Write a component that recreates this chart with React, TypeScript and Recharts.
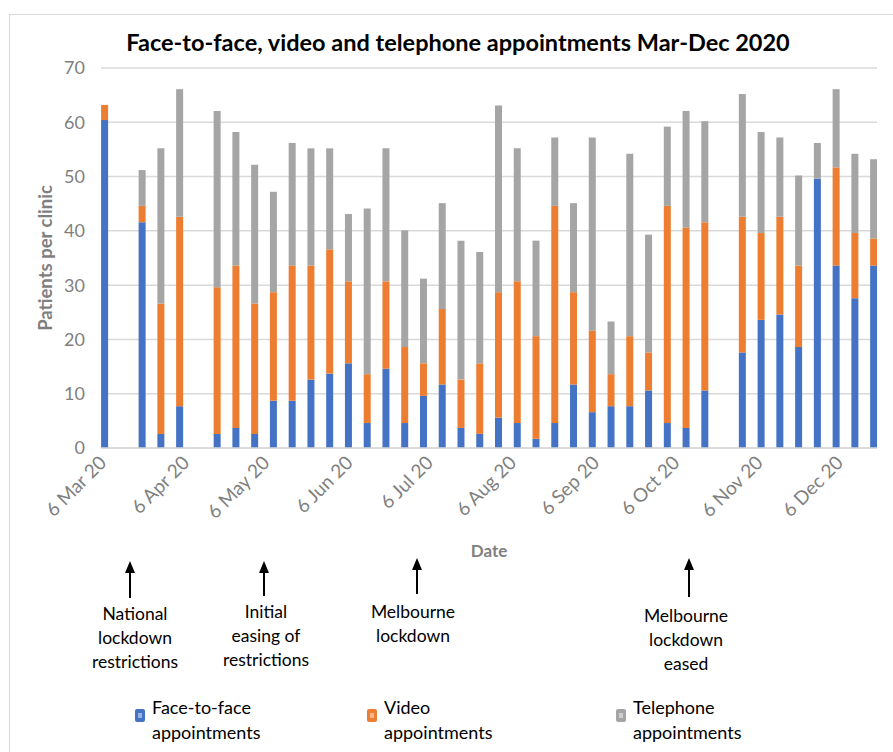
import React from "react";
import { BarChart, Bar, XAxis, YAxis, CartesianGrid } from "recharts";

// weekly dates (13 Mar, 10 Apr and 23 Oct have no data)
const weeks = [
  "2020-03-06", "2020-03-20", "2020-03-27", "2020-04-03", "2020-04-17", "2020-04-24",
  "2020-05-01", "2020-05-08", "2020-05-15", "2020-05-22", "2020-05-29", "2020-06-05",
  "2020-06-12", "2020-06-19", "2020-06-26", "2020-07-03", "2020-07-10", "2020-07-17",
  "2020-07-24", "2020-07-31", "2020-08-07", "2020-08-14", "2020-08-21", "2020-08-28",
  "2020-09-04", "2020-09-11", "2020-09-18", "2020-09-25", "2020-10-02", "2020-10-09",
  "2020-10-16", "2020-10-30", "2020-11-06", "2020-11-13", "2020-11-20", "2020-11-27",
  "2020-12-04", "2020-12-11", "2020-12-18",
];

const faceToFace = [
  60.4, 41.6, 2.6, 7.7, 2.6, 3.7, 2.6, 8.7, 8.7, 12.6, 13.7, 15.6, 4.6, 14.6, 4.6, 9.6,
  11.7, 3.7, 2.6, 5.6, 4.6, 1.7, 4.6, 11.7, 6.6, 7.7, 7.7, 10.6, 4.6, 3.7, 10.6, 17.6,
  23.6, 24.6, 18.6, 49.6, 33.6, 27.6, 33.6,
];
const video = [
  2.8, 3.0, 24.0, 34.9, 27.0, 29.9, 24.0, 20.0, 24.9, 21.0, 22.9, 15.1, 9.0, 16.1, 14.0,
  6.0, 13.9, 8.9, 13.0, 23.1, 26.1, 18.9, 40.0, 17.0, 15.0, 5.9, 12.9, 7.0, 40.0, 36.9,
  31.0, 25.0, 16.0, 18.0, 15.0, 0, 18.1, 12.0, 5.0,
];
const telephone = [
  0, 6.6, 28.6, 23.5, 32.5, 24.6, 25.6, 18.5, 22.6, 21.6, 18.6, 12.4, 30.5, 24.5, 21.5,
  15.6, 19.5, 25.6, 20.5, 34.4, 24.5, 17.6, 12.6, 16.4, 35.6, 9.7, 33.6, 21.7, 14.6, 21.5,
  18.6, 22.6, 18.6, 14.6, 16.6, 6.6, 14.4, 14.6, 14.6,
];

const tickDates = [
  "2020-03-06", "2020-04-06", "2020-05-06", "2020-06-06", "2020-07-06",
  "2020-08-06", "2020-09-06", "2020-10-06", "2020-11-06", "2020-12-06",
];
const tickLabels = [
  "6 Mar 20", "6 Apr 20", "6 May 20", "6 Jun 20", "6 Jul 20",
  "6 Aug 20", "6 Sep 20", "6 Oct 20", "6 Nov 20", "6 Dec 20",
];
const yTicks = [0, 10, 20, 30, 40, 50, 60, 70];

const start = Date.UTC(2020, 2, 6);
const dayOf = (s: string) => {
  const [y, m, d] = s.split("-").map(Number);
  return Math.round((Date.UTC(y, m - 1, d) - start) / 86400000);
};

const data = weeks.map((w, i) => ({
  day: dayOf(w),
  f2f: faceToFace[i],
  video: video[i],
  phone: telephone[i],
}));
const xTicks = tickDates.map(dayOf);

const FONT = "Lato, 'Open Sans', sans-serif";
const GREY = "#7f7f7f";

const XTick = (props: any) => {
  const { x, payload } = props;
  const idx = xTicks.indexOf(payload.value);
  const ty = 464;
  return (
    <text
      x={x + 3}
      y={ty}
      transform={`rotate(-45 ${x + 3} ${ty})`}
      textAnchor="end"
      fill={GREY}
      fontSize={19}
      fontFamily={FONT}
    >
      {tickLabels[idx]}
    </text>
  );
};

const Arrow = ({ x, y1, y2 }: { x: number; y1: number; y2: number }) => (
  <g>
    <line x1={x} y1={y1 + 10} x2={x} y2={y2} stroke="#000" strokeWidth={2} />
    <polygon points={`${x - 5},${y1 + 12} ${x + 5},${y1 + 12} ${x},${y1}`} fill="#000" />
  </g>
);

const Note = ({ x, y, lines }: { x: number; y: number; lines: string[] }) => (
  <text x={x} y={y} textAnchor="middle" fontSize={17.5} fontFamily={FONT} fill="#000">
    {lines.map((l, i) => (
      <tspan key={i} x={x} dy={i === 0 ? 0 : 24}>
        {l}
      </tspan>
    ))}
  </text>
);

const legendItems = [
  { color: "#4472C4", lines: ["Face-to-face", "appointments"], x: 135 },
  { color: "#ED7D31", lines: ["Video", "appointments"], x: 367 },
  { color: "#A5A5A5", lines: ["Telephone", "appointments"], x: 616 },
];

export default function App() {
  return (
    <div
      style={{
        position: "absolute",
        left: 0,
        top: 0,
        width: 893,
        height: 752,
        background: "#fff",
        overflow: "hidden",
        fontFamily: FONT,
      }}
    >
      <div
        style={{
          position: "absolute",
          left: 9,
          top: 14,
          width: 900,
          height: 760,
          borderTop: "1px solid #d9d9d9",
          borderLeft: "1px solid #d9d9d9",
        }}
      />
      <BarChart
        width={893}
        height={752}
        data={data}
        margin={{ top: 68, right: 16, bottom: 244, left: 0 }}
        style={{ position: "absolute", left: 0, top: 0 }}
      >
        <CartesianGrid vertical={false} stroke="#d9d9d9" strokeWidth={1.5} />
        <XAxis
          dataKey="day"
          type="number"
          domain={[-1.3, 288.3]}
          ticks={xTicks}
          allowDataOverflow
          height={60}
          tickLine={false}
          axisLine={{ stroke: "#d9d9d9", strokeWidth: 1.5 }}
          tick={<XTick />}
          interval={0}
        />
        <YAxis
          type="number"
          domain={[0, 70]}
          ticks={yTicks}
          width={101}
          tickLine={false}
          axisLine={false}
          tickMargin={10}
          tick={{ fill: GREY, fontSize: 18, fontFamily: FONT }}
        />
        <Bar dataKey="f2f" stackId="a" fill="#4472C4" barSize={7} isAnimationActive={false} />
        <Bar dataKey="video" stackId="a" fill="#ED7D31" barSize={7} isAnimationActive={false} />
        <Bar dataKey="phone" stackId="a" fill="#A5A5A5" barSize={7} isAnimationActive={false} />
      </BarChart>
      <svg
        width={893}
        height={752}
        style={{ position: "absolute", left: 0, top: 0, pointerEvents: "none" }}
      >
        <text x={458} y={51} textAnchor="middle" fontSize={23.5} fontWeight={700} fontFamily={FONT} fill="#000">
          Face-to-face, video and telephone appointments Mar-Dec 2020
        </text>
        <text
          x={52}
          y={258}
          transform="rotate(-90 52 258)"
          textAnchor="middle"
          fontSize={18.5}
          fontWeight={700}
          fontFamily={FONT}
          fill={GREY}
        >
          Patients per clinic
        </text>
        <text x={489} y={557} textAnchor="middle" fontSize={17} fontWeight={700} fontFamily={FONT} fill={GREY}>
          Date
        </text>
        <Arrow x={130} y1={561} y2={598} />
        <Arrow x={264} y1={561} y2={596} />
        <Arrow x={417} y1={558} y2={594} />
        <Arrow x={689} y1={558} y2={597} />
        <Note x={135} y={620} lines={["National", "lockdown", "restrictions"]} />
        <Note x={266} y={618} lines={["Initial", "easing of", "restrictions"]} />
        <Note x={413} y={618} lines={["Melbourne", "lockdown"]} />
        <Note x={686} y={622} lines={["Melbourne", "lockdown", "eased"]} />
        {legendItems.map((it) => (
          <g key={it.x}>
            <rect x={it.x} y={709} width={10} height={13} rx={2} fill={it.color} />
            <rect x={it.x + 3} y={713} width={4} height={5} fill="#fff" opacity={0.45} />
            <text x={it.x + 17} y={714} fontSize={18} fontFamily={FONT} fill="#000">
              <tspan x={it.x + 17}>{it.lines[0]}</tspan>
              <tspan x={it.x + 17} dy={25}>
                {it.lines[1]}
              </tspan>
            </text>
          </g>
        ))}
      </svg>
    </div>
  );
}
